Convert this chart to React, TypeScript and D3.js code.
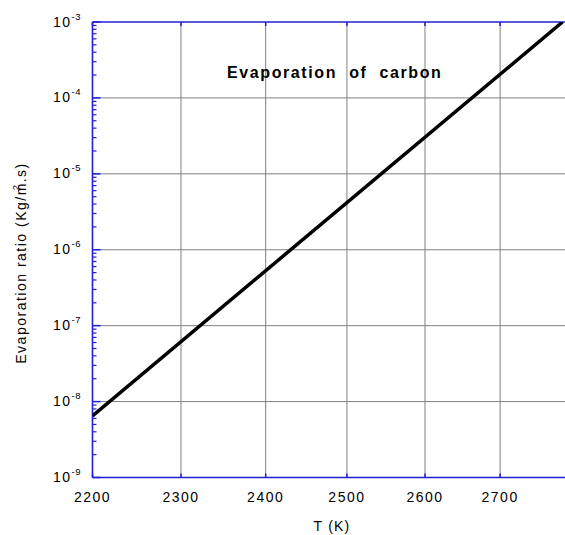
import React from "react";
import * as d3 from "d3";

const temps = [2200, 2786];
const rates = [6.5e-9, 1e-3];
const xTicks = [2200, 2300, 2400, 2500, 2600, 2700];
const yExps = [-9, -8, -7, -6, -5, -4, -3];
const title = "Evaporation  of  carbon";
const xLabel = "T (K)";

const W = 565;
const H = 535;
const left = 92.5;
const right = 572.5;
const top = 22;
const bottom = 477.5;
const AXIS = "#2020d8";
const FONT = "'Liberation Sans', Arial, Helvetica, sans-serif";

export default function App() {
  const x = d3.scaleLog().domain([2200, 2800]).range([left, right]);
  const y = d3.scaleLog().domain([1e-9, 1e-3]).range([bottom, top]);
  const minor: number[] = [];
  for (let e = -9; e < -3; e++) {
    for (let m = 2; m <= 9; m++) minor.push(m * Math.pow(10, e));
  }
  const line = d3
    .line<number>()
    .x((_, i) => x(temps[i]))
    .y((d) => y(d));
  return (
    <svg
      width={W}
      height={H}
      style={{ position: "absolute", left: 0, top: 0, background: "#fff" }}
      fontFamily={FONT}
    >
      <defs>
        <clipPath id="plot">
          <rect x={left} y={top} width={right - left} height={bottom - top} />
        </clipPath>
      </defs>
      {/* grid */}
      {xTicks.slice(1).map((t) => (
        <line key={"gx" + t} x1={x(t)} x2={x(t)} y1={top} y2={bottom} stroke="#808080" strokeWidth={1} />
      ))}
      {yExps.slice(1, -1).map((e) => (
        <line key={"gy" + e} x1={left} x2={right} y1={y(Math.pow(10, e))} y2={y(Math.pow(10, e))} stroke="#808080" strokeWidth={1} />
      ))}
      {/* axes */}
      <line x1={left} x2={right} y1={top} y2={top} stroke={AXIS} strokeWidth={1.6} />
      <line x1={left} x2={right} y1={bottom} y2={bottom} stroke={AXIS} strokeWidth={1.6} />
      <line x1={left} x2={left} y1={top} y2={bottom} stroke={AXIS} strokeWidth={1.6} />
      <line x1={right} x2={right} y1={top} y2={bottom} stroke={AXIS} strokeWidth={1.6} />
      {yExps.map((e) => (
        <line key={"ty" + e} x1={left} x2={left + 8} y1={y(Math.pow(10, e))} y2={y(Math.pow(10, e))} stroke={AXIS} strokeWidth={1.5} />
      ))}
      {minor.map((v, i) => (
        <line key={"my" + i} x1={left} x2={left + 4} y1={y(v)} y2={y(v)} stroke={AXIS} strokeWidth={1.2} />
      ))}
      {xTicks.map((t) => (
        <g key={"tx" + t}>
          <line x1={x(t)} x2={x(t)} y1={bottom} y2={bottom - 4} stroke={AXIS} strokeWidth={1.5} />
          <line x1={x(t)} x2={x(t)} y1={top} y2={top + 4} stroke={AXIS} strokeWidth={1.5} />
        </g>
      ))}
      {/* data line */}
      <path d={line(rates) || ""} fill="none" stroke="#000" strokeWidth={3.5} clipPath="url(#plot)" />
      {/* tick labels */}
      {xTicks.map((t) => (
        <text key={"lx" + t} x={x(t)} y={502} textAnchor="middle" fontSize={14} letterSpacing={1.5} fill="#000">
          {t}
        </text>
      ))}
      {yExps.map((e) => (
        <text key={"ly" + e} x={53} y={y(Math.pow(10, e)) + 4.5} fontSize={14} letterSpacing={1.5} fill="#000">
          10
          <tspan fontSize={9.5} dy={-7} letterSpacing={0.5}>
            {e}
          </tspan>
        </text>
      ))}
      {/* title */}
      <text x={227} y={78} fontSize={16} fontWeight="bold" letterSpacing={1.6} fill="#000" style={{ whiteSpace: "pre" }}>
        {title}
      </text>
      {/* axis labels */}
      <text x={332} y={531} textAnchor="middle" fontSize={14} letterSpacing={1.2} fill="#000">
        {xLabel}
      </text>
      <text transform="translate(26,263) rotate(-90)" textAnchor="middle" fontSize={14} letterSpacing={1.5} fill="#000">
        Evaporation ratio (Kg/m
        <tspan fontSize={9.5} dy={-7} dx={-8}>2</tspan>
        <tspan dy={7} dx={1}>.s)</tspan>
      </text>
    </svg>
  );
}
